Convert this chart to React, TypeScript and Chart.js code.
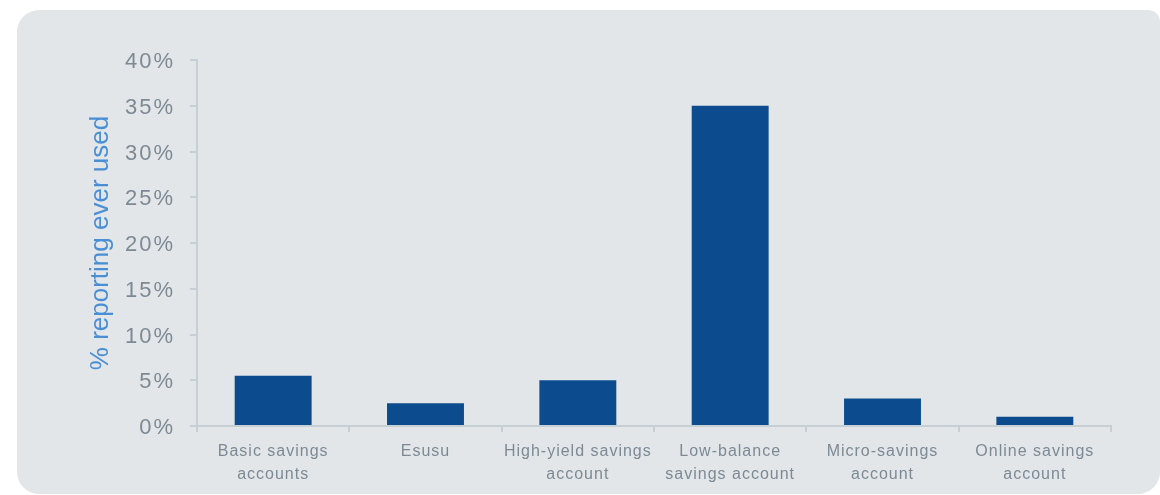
import React, { useEffect, useRef } from "react";
import { Chart, registerables } from "chart.js";

Chart.register(...registerables);

const categories: string[][] = [
  ["Basic savings", "accounts"],
  ["Esusu"],
  ["High-yield savings", "account"],
  ["Low-balance", "savings account"],
  ["Micro-savings", "account"],
  ["Online savings", "account"],
];
const values: number[] = [5.5, 2.5, 5.0, 35.0, 3.0, 1.0];
const yMin = 0;
const yMax = 40;
const yStep = 5;
const yTitle = "% reporting ever used";

const BAR = "#0c4c8e";
const TICK_TEXT = "#7d8a94";
const AXIS = "#c6cfd3";
const TITLE = "#4a8fd3";
const BG = "#e2e6e9";

function patchSpacing(scale: any, sp: string) {
  if (!scale || scale.__patched) return;
  const orig = scale.drawLabels.bind(scale);
  scale.drawLabels = (area: any) => {
    const ctx = scale.ctx;
    ctx.save();
    (ctx as any).letterSpacing = sp;
    orig(area);
    ctx.restore();
  };
  scale.__patched = true;
}

const spacingPlugin = {
  id: "spacing",
  beforeDraw(chart: any) {
    patchSpacing(chart.scales.y, "2px");
    patchSpacing(chart.scales.x, "1px");
  },
};

export default function App() {
  const ref = useRef<HTMLCanvasElement | null>(null);
  useEffect(() => {
    if (!ref.current) return;
    const chart = new Chart(ref.current, {
      type: "bar",
      data: {
        labels: categories,
        datasets: [
          {
            data: values,
            backgroundColor: BAR,
            borderWidth: 0,
            categoryPercentage: 1,
            barPercentage: 0.505,
          },
        ],
      },
      plugins: [spacingPlugin],
      options: {
        animation: false,
        responsive: false,
        layout: { padding: { left: 80, top: 60, right: 49, bottom: 0 } },
        plugins: { legend: { display: false }, tooltip: { enabled: false } },
        scales: {
          x: {
            offset: true,
            grid: {
              offset: true,
              drawOnChartArea: false,
              drawTicks: true,
              tickLength: 6,
              color: AXIS,
              lineWidth: 2,
            },
            border: { display: true, color: AXIS, width: 2 },
            ticks: {
              color: TICK_TEXT,
              font: { family: "'Liberation Sans', Arial, sans-serif", size: 16, lineHeight: 1.45 },
              padding: 8,
              maxRotation: 0,
              autoSkip: false,
            },
            afterFit(scale: any) {
              scale.height = 69;
            },
          },
          y: {
            min: yMin,
            max: yMax,
            grid: {
              drawOnChartArea: false,
              drawTicks: true,
              tickLength: 7,
              color: AXIS,
              lineWidth: 2,
            },
            border: { display: true, color: AXIS, width: 2 },
            ticks: {
              stepSize: yStep,
              color: TICK_TEXT,
              font: { family: "'Liberation Sans', Arial, sans-serif", size: 22 },
              padding: 15,
              labelOffset: 2,
              callback: (v: any) => `${v}%`,
            },
            title: {
              display: true,
              text: yTitle,
              color: TITLE,
              font: { family: "'Liberation Sans', Arial, sans-serif", size: 26 },
              padding: { top: 5, bottom: 0 },
            },
            afterFit(scale: any) {
              scale.width = 117;
            },
          },
        },
      },
    });
    return () => chart.destroy();
  }, []);

  return (
    <div style={{ position: "absolute", left: 0, top: 0, width: 1160, height: 495, overflow: "hidden", background: "#ffffff" }}>
      <div
        style={{
          position: "absolute",
          left: 17,
          top: 10,
          width: 1143,
          height: 484,
          background: BG,
          borderRadius: "22px 12px 22px 22px",
        }}
      />
      <canvas ref={ref} width={1160} height={495} style={{ position: "absolute", left: 0, top: 0, width: 1160, height: 495 }} />
    </div>
  );
}
